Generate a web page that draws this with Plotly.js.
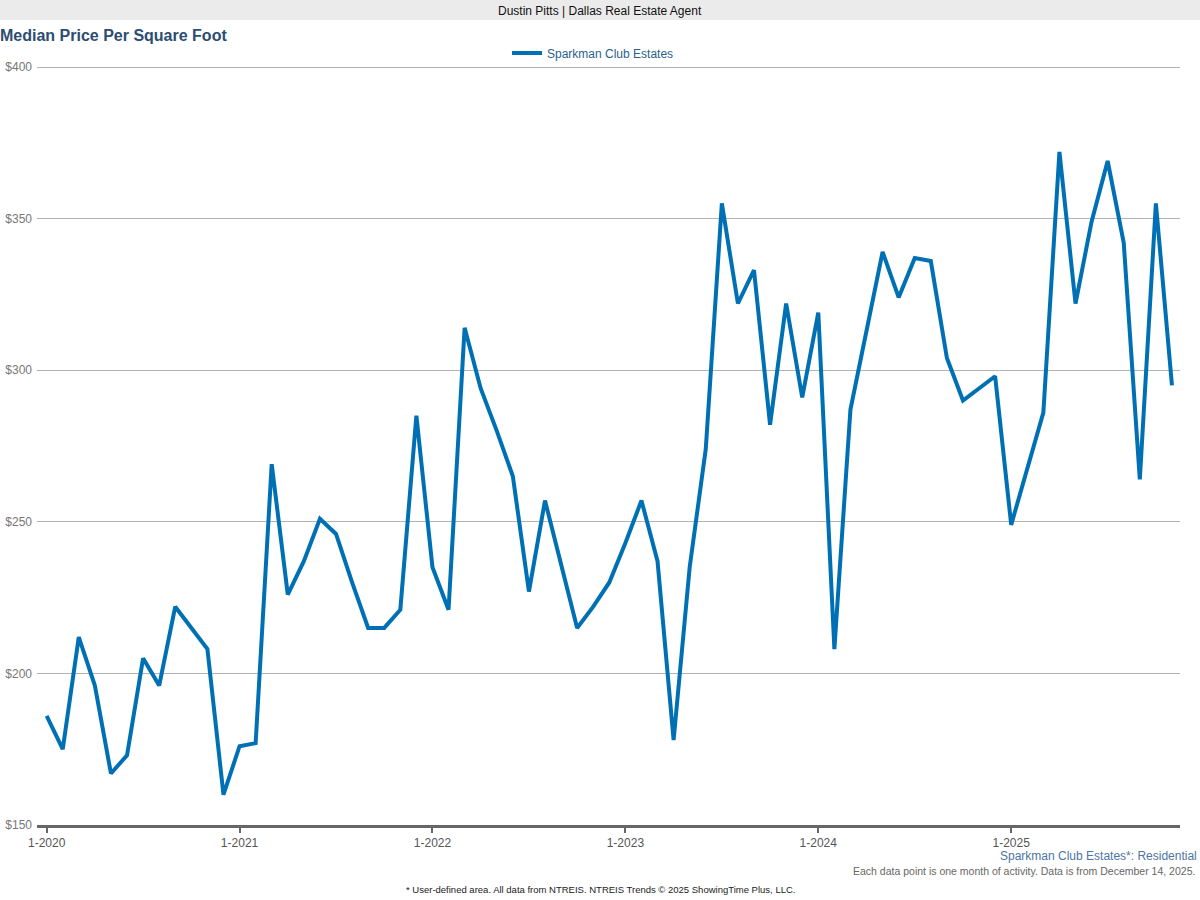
<!DOCTYPE html>
<html>
<head>
<meta charset="utf-8">
<script src="https://cdn.plot.ly/plotly-3.0.1.min.js"></script>
<style>
  html, body { margin: 0; padding: 0; background: #ffffff; }
  #chart { width: 1200px; height: 900px; }
</style>
</head>
<body>
<div id="chart"></div>
<script>
// Month categories (Jan 2020 – Nov 2025)
const months = [
  "1-2020","2-2020","3-2020","4-2020","5-2020","6-2020","7-2020","8-2020","9-2020","10-2020","11-2020","12-2020",
  "1-2021","2-2021","3-2021","4-2021","5-2021","6-2021","7-2021","8-2021","9-2021","10-2021","11-2021","12-2021",
  "1-2022","2-2022","3-2022","4-2022","5-2022","6-2022","7-2022","8-2022","9-2022","10-2022","11-2022","12-2022",
  "1-2023","2-2023","3-2023","4-2023","5-2023","6-2023","7-2023","8-2023","9-2023","10-2023","11-2023","12-2023",
  "1-2024","2-2024","3-2024","4-2024","5-2024","6-2024","7-2024","8-2024","9-2024","10-2024","11-2024","12-2024",
  "1-2025","2-2025","3-2025","4-2025","5-2025","6-2025","7-2025","8-2025","9-2025","10-2025","11-2025"
];

// Median price per square foot, Sparkman Club Estates
const sparkmanValues = [
  186, 175, 212, 196, 167, 173, 205, 196, 222, 215, 208, 160,
  176, 177, 269, 226, 237, 251, 246, 230, 215, 215, 221, 285,
  235, 221, 314, 294, 280, 265, 227, 257, 236, 215, 222, 230,
  243, 257, 237, 178, 235, 274, 355, 322, 333, 282, 322, 291,
  319, 208, 287, 313, 339, 324, 337, 336, 304, 290, 294, 298,
  249, 268, 286, 372, 322, 349, 369, 342, 264, 355, 295
];

const seriesName = "Sparkman Club Estates";
const xTickVals = ["1-2020","1-2021","1-2022","1-2023","1-2024","1-2025"];
const xTickText = ["1-2020","1-2021","1-2022","1-2023","1-2024","1-2025"];
const yTickVals = [150, 200, 250, 300, 350, 400];
const yTickText = ["$150", "$200", "$250", "$300", "$350", "$400"];

const FONT = "Liberation Sans, Arial, Helvetica, sans-serif";

const trace = {
  type: "scatter",
  mode: "lines",
  name: seriesName,
  x: months,
  y: sparkmanValues,
  line: { color: "#0070b5", width: 4, shape: "linear" },
  hoverinfo: "skip"
};

// plot area: x 37..1180, y 65..825 (gridline $400 at y=67)
const L = 37, R = 1180, T = 65, B = 825;
const px = v => (v - L) / (R - L);
const py = v => (B - v) / (B - T);

const layout = {
  width: 1200,
  height: 900,
  margin: { l: L, r: 1200 - R, t: T, b: 900 - B, pad: 0 },
  paper_bgcolor: "#ffffff",
  plot_bgcolor: "#ffffff",
  font: { family: FONT, size: 12, color: "#555555" },
  title: {
    text: "Median Price Per Square Foot",
    font: { family: FONT, size: 16, color: "#2c4d72", weight: "bold" },
    x: 0, xref: "container", xanchor: "left",
    y: 1 - 35 / 900, yref: "container", yanchor: "middle",
    pad: { l: 0, t: 0, b: 0, r: 0 }
  },
  showlegend: true,
  legend: {
    orientation: "h",
    x: px(593), xanchor: "center",
    y: py(53), yanchor: "middle",
    font: { family: FONT, size: 12, color: "#2b5f8f" },
    bgcolor: "rgba(0,0,0,0)",
    itemwidth: 30
  },
  xaxis: {
    type: "category",
    categoryorder: "array",
    categoryarray: months,
    range: [-0.6, 70.5],
    showgrid: false,
    zeroline: false,
    showline: true,
    linecolor: "#666666",
    linewidth: 3,
    ticks: "outside",
    ticklen: 5,
    tickwidth: 2,
    tickcolor: "#666666",
    tickvals: xTickVals,
    ticktext: xTickText,
    tickfont: { family: FONT, size: 12, color: "#555555" },
    fixedrange: true
  },
  yaxis: {
    range: [150, 400.66],
    tickvals: yTickVals,
    ticktext: yTickText,
    showgrid: true,
    gridcolor: "#b3b3b3",
    gridwidth: 1,
    zeroline: false,
    showline: false,
    ticks: "",
    ticklabelstandoff: 4,
    tickfont: { family: FONT, size: 12, color: "#777777" },
    fixedrange: true
  },
  shapes: [
    {
      type: "rect", xref: "paper", yref: "paper", layer: "below",
      x0: px(0), x1: px(1200), y0: py(20), y1: py(0),
      fillcolor: "#ebebeb", line: { width: 0 }
    }
  ],
  annotations: [
    {
      text: "Dustin Pitts | Dallas Real Estate Agent",
      xref: "paper", yref: "paper", x: px(600), y: py(11),
      xanchor: "center", yanchor: "middle", showarrow: false,
      font: { family: FONT, size: 12, color: "#111111" }
    },
    {
      text: "Sparkman Club Estates*: Residential",
      xref: "paper", yref: "paper", x: px(1199), y: py(856),
      xanchor: "right", yanchor: "middle", showarrow: false,
      font: { family: FONT, size: 12, color: "#4d74a6" }
    },
    {
      text: "Each data point is one month of activity. Data is from December 14, 2025.",
      xref: "paper", yref: "paper", x: px(1197), y: py(871),
      xanchor: "right", yanchor: "middle", showarrow: false,
      font: { family: FONT, size: 10.5, color: "#666666" }
    },
    {
      text: "* User-defined area. All data from NTREIS. NTREIS Trends © 2025 ShowingTime Plus, LLC.",
      xref: "paper", yref: "paper", x: px(600), y: py(889),
      xanchor: "center", yanchor: "middle", showarrow: false,
      font: { family: FONT, size: 9.5, color: "#222222" }
    }
  ],
  hovermode: false
};

Plotly.newPlot("chart", [trace], layout, { displayModeBar: false, staticPlot: true, responsive: false });
</script>
</body>
</html>
